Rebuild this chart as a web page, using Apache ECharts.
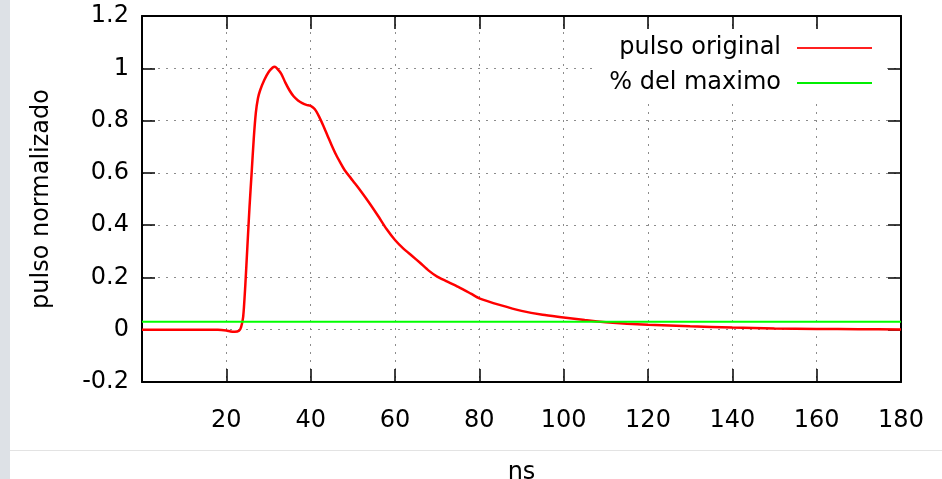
<!DOCTYPE html>
<html><head><meta charset="utf-8">
<script src="https://cdn.jsdelivr.net/npm/echarts@6/dist/echarts.min.js"></script>
<style>html,body{margin:0;padding:0;background:#fff}#c{width:942px;height:479px}</style>
</head><body><div id="c"></div>
<script>
const timeNs = [0, 5, 10, 15, 18, 20, 21, 22, 23, 23.5, 24, 24.5, 25, 25.5, 26, 26.5, 27, 27.5, 28, 29, 30, 31, 31.5, 32, 33, 34, 35, 36, 37, 38, 39, 40, 41, 42, 43, 44, 45, 46, 47, 48, 50, 52, 54, 56, 58, 60, 62, 64, 66, 68, 70, 72, 75, 78, 80, 85, 90, 95, 100, 105, 110, 115, 120, 130, 140, 150, 160, 170, 180];
const pulsoOriginal = [0, 0, 0, 0, 0, -0.003, -0.007, -0.008, -0.004, 0.01, 0.05, 0.17, 0.32, 0.47, 0.6, 0.73, 0.83, 0.885, 0.915, 0.955, 0.985, 1.003, 1.006, 1.0, 0.98, 0.945, 0.915, 0.892, 0.877, 0.867, 0.86, 0.856, 0.843, 0.815, 0.78, 0.742, 0.705, 0.67, 0.64, 0.612, 0.57, 0.528, 0.483, 0.435, 0.385, 0.343, 0.31, 0.283, 0.255, 0.226, 0.203, 0.187, 0.164, 0.138, 0.12, 0.094, 0.072, 0.057, 0.047, 0.037, 0.029, 0.023, 0.019, 0.013, 0.008, 0.005, 0.003, 0.002, 0.001];
const maximoX = [0, 180];
const maximoY = [0.03, 0.03];
const seriesNames = ['pulso original', '% del maximo'];
const xRange = [0, 180, 20];
const yRange = [-0.2, 1.2, 0.2];

const FONT = 'DejaVu Sans';
const redData = timeNs.map((t, i) => [t, pulsoOriginal[i]]);
const greenData = maximoX.map((t, i) => [t, maximoY[i]]);

const frameLine = { show: true, onZero: false, lineStyle: { color: '#000', width: 2 } };
const inTick = { show: true, inside: true, length: 13, lineStyle: { color: '#000', width: 1.5 } };
const gridLine = { show: true, lineStyle: { color: '#8c8c8c', width: 1, type: [2, 6] } };

const chart = echarts.init(document.getElementById('c'));
chart.setOption({
  animation: false,
  backgroundColor: '#fff',
  textStyle: { fontFamily: FONT },
  graphic: [
    { type: 'rect', shape: { x: 0, y: 0, width: 10, height: 479 }, style: { fill: '#dde1e6' }, silent: true },
    { type: 'line', shape: { x1: 10, y1: 450.5, x2: 942, y2: 450.5 }, style: { stroke: '#e3e3e3', lineWidth: 1 }, silent: true }
  ],
  grid: { left: 142, right: 41, top: 16, bottom: 97, containLabel: false, outerBoundsMode: 'none' },
  legend: {
    orient: 'vertical', align: 'right', right: 55, top: 32,
    padding: [4, 15, 6, 13], itemGap: 11, itemWidth: 75, itemHeight: 14,
    icon: 'path://M0,0H75V2H0Z',
    backgroundColor: '#fff',
    textStyle: { fontFamily: FONT, fontSize: 24, color: '#000', padding: [0, 11, 0, 0] },
    data: seriesNames
  },
  xAxis: [
    {
      type: 'value', min: xRange[0], max: xRange[1], interval: xRange[2],
      name: 'ns', nameLocation: 'middle', nameGap: 79,
      nameTextStyle: { fontFamily: FONT, fontSize: 24, color: '#000' },
      axisLine: frameLine, axisTick: inTick, splitLine: gridLine,
      axisLabel: { fontFamily: FONT, fontSize: 24, color: '#000', margin: 27,
        formatter: v => (v === 0 ? '' : String(v)) }
    },
    {
      type: 'value', position: 'top', min: xRange[0], max: xRange[1], interval: xRange[2],
      axisLine: frameLine, axisTick: inTick, splitLine: { show: false }, axisLabel: { show: false }
    }
  ],
  yAxis: [
    {
      type: 'value', min: yRange[0], max: yRange[1], interval: yRange[2],
      name: 'pulso normalizado', nameLocation: 'middle', nameGap: 88,
      nameTextStyle: { fontFamily: FONT, fontSize: 24, color: '#000' },
      axisLine: frameLine, axisTick: inTick, splitLine: gridLine,
      axisLabel: { fontFamily: FONT, fontSize: 24, color: '#000', margin: 13 }
    },
    {
      type: 'value', position: 'right', min: yRange[0], max: yRange[1], interval: yRange[2],
      axisLine: frameLine, axisTick: inTick, splitLine: { show: false }, axisLabel: { show: false }
    }
  ],
  series: [
    {
      name: seriesNames[0], type: 'line', data: redData, xAxisIndex: 0, yAxisIndex: 0,
      showSymbol: false, symbol: 'none', smooth: 0.25,
      lineStyle: { color: '#ff0000', width: 2.5 }, itemStyle: { color: '#ff2020' }
    },
    {
      name: seriesNames[1], type: 'line', data: greenData, xAxisIndex: 0, yAxisIndex: 0,
      showSymbol: false, symbol: 'none',
      lineStyle: { color: '#00ff00', width: 2 }, itemStyle: { color: '#00ee00' }
    }
  ]
});
</script>
</body></html>
